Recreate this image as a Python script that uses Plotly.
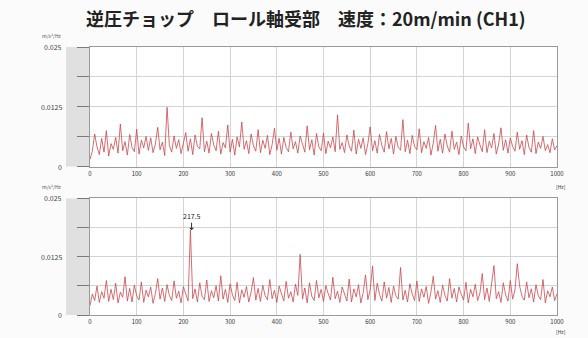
import numpy as np
import plotly.graph_objects as go

# frequency bins (Hz)
freq = list(np.arange(0, 1001, 5))

# upper panel amplitude (x 1e-3)
upper = [
    1.5, 3.2, 6.8, 4.1, 2.5, 5.9, 3.0, 7.5, 2.2, 4.8,
    3.6, 6.1, 2.8, 8.9, 3.3, 5.2, 2.4, 6.7, 4.0, 3.1,
    7.8, 2.6, 5.5, 3.9, 6.3, 3.4, 6.0, 2.9, 4.7, 8.2,
    3.5, 5.1, 2.3, 12.4, 4.4, 3.0, 6.4, 3.8, 5.6, 2.7,
    4.9, 7.1, 3.2, 5.8, 2.5, 6.6, 4.2, 3.7, 10.2, 3.1,
    5.3, 2.8, 6.9, 4.5, 3.3, 7.4, 2.6, 5.0, 3.9, 8.7,
    3.0, 5.7, 2.4, 6.2, 4.1, 9.3, 3.6, 5.4, 2.7, 6.8,
    4.3, 3.2, 7.7, 2.9, 5.5, 3.8, 6.5, 2.5, 4.6, 8.0,
    3.4, 5.9, 2.6, 6.1, 4.0, 3.1, 7.2, 3.7, 5.2, 2.8,
    6.4, 4.7, 3.0, 8.5, 3.5, 5.6, 2.4, 6.9, 4.1, 3.3,
    7.0, 2.7, 5.3, 3.9, 6.2, 3.1, 10.8, 3.6, 5.0, 2.9,
    6.6, 4.3, 3.2, 7.6, 2.6, 5.7, 3.8, 6.0, 2.5, 4.8,
    8.3, 3.3, 5.4, 2.8, 6.7, 4.4, 3.0, 7.3, 3.7, 5.9,
    2.6, 6.3, 4.0, 3.4, 9.8, 3.1, 5.5, 2.7, 6.5, 4.2,
    3.5, 7.9, 2.9, 5.2, 3.8, 6.1, 2.4, 4.9, 8.6, 3.2,
    5.7, 2.8, 6.8, 4.3, 3.0, 7.4, 3.6, 5.1, 2.5, 6.4,
    4.1, 3.3, 9.1, 3.7, 5.8, 2.7, 6.2, 4.5, 3.1, 7.7,
    2.9, 5.3, 3.9, 6.9, 2.6, 4.7, 8.1, 3.4, 5.6, 2.8,
    6.0, 4.2, 3.2, 7.2, 3.6, 5.4, 2.5, 6.6, 4.0, 3.0,
    7.5, 2.7, 5.1, 3.8, 6.3, 3.3, 4.6, 2.9, 5.8, 3.5,
    4.4,
]

# lower panel amplitude (x 1e-3)
lower = [
    2.0, 4.5, 3.1, 6.2, 2.7, 5.0, 3.6, 7.4, 2.9, 5.5,
    3.3, 6.8, 2.6, 4.9, 3.8, 8.2, 3.0, 5.7, 2.8, 6.4,
    4.1, 3.2, 7.1, 2.7, 5.3, 3.9, 6.0, 2.5, 4.6, 7.8,
    3.4, 5.8, 2.9, 6.5, 4.2, 3.1, 7.3, 3.6, 5.1, 2.6,
    6.1, 4.4, 3.0, 18.2, 3.5, 5.6, 2.8, 6.9, 4.0, 3.3,
    7.5, 2.9, 5.2, 3.7, 6.3, 3.0, 8.4, 3.4, 5.5, 2.7,
    6.7, 4.3, 3.1, 7.0, 2.6, 5.4, 3.8, 6.1, 2.8, 4.9,
    8.0, 3.2, 5.7, 2.9, 6.4, 4.1, 3.3, 7.6, 3.5, 5.3,
    2.7, 6.2, 4.5, 3.0, 7.2, 3.6, 5.0, 2.8, 6.6, 4.2,
    13.0, 3.4, 5.8, 2.6, 6.9, 4.0, 3.1, 7.4, 3.7, 5.5,
    2.9, 6.3, 4.6, 3.2, 8.1, 3.5, 5.1, 2.7, 6.0, 4.3,
    3.0, 7.7, 2.8, 5.6, 3.9, 6.5, 2.6, 4.8, 8.6, 3.3,
    5.4, 10.5, 3.1, 6.8, 4.4, 3.0, 7.1, 3.6, 5.9, 2.7,
    6.2, 4.1, 3.4, 10.2, 3.2, 5.3, 2.8, 6.7, 4.5, 3.1,
    7.3, 2.9, 5.6, 3.8, 6.1, 2.5, 4.9, 8.3, 3.4, 5.2,
    2.7, 6.4, 4.2, 3.0, 7.8, 3.6, 5.7, 2.8, 6.0, 4.4,
    3.2, 7.0, 2.6, 5.5, 3.9, 6.6, 3.1, 4.7, 8.9, 3.3,
    5.8, 2.9, 6.3, 10.6, 3.5, 5.0, 2.7, 6.9, 4.3, 3.0,
    7.4, 3.4, 5.4, 11.0, 6.2, 4.0, 3.2, 7.1, 3.7, 5.6,
    2.8, 6.5, 4.1, 3.3, 7.6, 2.6, 5.2, 3.9, 6.0, 3.1,
    4.6,
]

x_ticks = [0, 100, 200, 300, 400, 500, 600, 700, 800, 900, 1000]
x_tick_labels = ["0", "100", "200", "300", "400", "500", "600", "700", "800", "900", "1000"]
y_ticks = [0, 6.25, 12.5, 18.75, 25]
y_labels = {0: "0", 12.5: "0.0125", 25: "0.025"}
peak_freq = 217.5
peak_label = "217.5"
title = "<b>逆圧チョップ　ロール軸受部　速度：20m/min (CH1)</b>"
unit_y = "m/s²/Hz"
unit_x = "[Hz]"

LINE = "#c9484c"
FONT = "Noto Sans CJK JP"
PW = 467  # plot width in px
PH = 271  # plot height in px

fig = go.Figure()
fig.add_trace(go.Scatter(x=freq, y=upper, mode="lines",
                         line=dict(color=LINE, width=0.8), xaxis="x", yaxis="y",
                         showlegend=False))
fig.add_trace(go.Scatter(x=freq, y=lower, mode="lines",
                         line=dict(color=LINE, width=0.8), xaxis="x2", yaxis="y2",
                         showlegend=False))

xcommon = dict(range=[0, 1000], tickvals=x_ticks, ticktext=x_tick_labels,
               tickfont=dict(size=6, color="#333", family=FONT),
               showgrid=True, gridcolor="#d4d4d4", gridwidth=1,
               showline=True, linecolor="#9a9a9a", mirror=True,
               zeroline=False, ticks="", ticklabelstandoff=1)
ycommon = dict(range=[0, 25], tickvals=y_ticks, showticklabels=False,
               showgrid=True, gridcolor="#d4d4d4", gridwidth=1,
               showline=True, linecolor="#9a9a9a", mirror=True,
               zeroline=False, ticks="outside", ticklen=12, tickcolor="#7a7a7a")

fig.update_layout(
    width=588, height=338,
    margin=dict(l=90, r=31, t=47, b=20),
    paper_bgcolor="#fbfbfb", plot_bgcolor="#ffffff",
    font=dict(family=FONT),
    title=dict(text=title, x=0.52, xanchor="center", y=1 - 20 / 338, yanchor="middle",
               font=dict(size=18, color="#222", family=FONT)),
    xaxis=dict(domain=[0, 1], anchor="y", **xcommon),
    yaxis=dict(domain=[0.554, 1.0], anchor="x", **ycommon),
    xaxis2=dict(domain=[0, 1], anchor="y2", **xcommon),
    yaxis2=dict(domain=[0.0, 0.435], anchor="x2", **ycommon),
)

shapes = []
annotations = []
for dom in ([0.554, 1.0], [0.0, 0.435]):
    shapes.append(dict(type="rect", xref="paper", yref="paper",
                       x0=-24 / PW, x1=0, y0=dom[0], y1=dom[1],
                       fillcolor="#e0e0e0", line=dict(width=0), layer="below"))
for yref in ("y", "y2"):
    for v, t in y_labels.items():
        annotations.append(dict(xref="paper", yref=yref, x=-26 / PW, y=v,
                                text=t, showarrow=False, xanchor="right",
                                yanchor="middle",
                                font=dict(size=7, color="#444", family=FONT)))
# y unit labels (pixel y 35 and 188)
for yp_px in (35, 188):
    annotations.append(dict(xref="paper", yref="paper", x=-38 / PW,
                            y=(318 - yp_px) / PH, yanchor="middle",
                            text=unit_y, showarrow=False, xanchor="center",
                            font=dict(size=5, color="#555", family=FONT)))
# x unit labels (pixel y 188 and 335)
for yp_px in (188, 335):
    annotations.append(dict(xref="paper", yref="paper", x=1.0 + 4 / PW,
                            y=(318 - yp_px) / PH, yanchor="middle",
                            text=unit_x, showarrow=False, xanchor="center",
                            font=dict(size=5, color="#333", family=FONT)))
annotations.append(dict(xref="x2", yref="y2", x=peak_freq, y=lower[43],
                        text=peak_label, showarrow=True, arrowhead=1, arrowsize=0.8,
                        arrowwidth=1, arrowcolor="#333", ax=0, ay=-14,
                        font=dict(size=7, color="#222", family=FONT)))
fig.update_layout(shapes=shapes, annotations=annotations)

fig.write_html("out.html", config={"displayModeBar": False},
               post_script="document.body.style.margin='0';document.body.style.overflow='hidden';")
